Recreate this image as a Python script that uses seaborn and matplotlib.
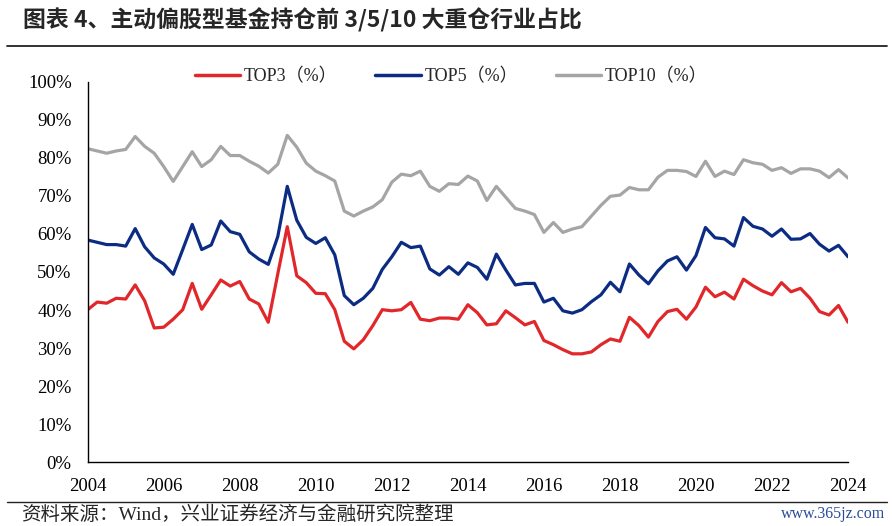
import numpy as np
import pandas as pd
import matplotlib
matplotlib.use("Agg")
import matplotlib.pyplot as plt
import seaborn as sns
from matplotlib.lines import Line2D

# ---------------- data (quarterly, 2004Q1 .. 2024Q1) ----------------
top3 = [40.1, 42.1, 41.8, 43.1, 42.9, 46.6, 42.4, 35.3, 35.5, 37.6,
        40.1, 47.0, 40.2, 44.0, 47.9, 46.3, 47.5, 42.9, 41.6, 36.8,
        49.5, 61.9, 49.0, 47.2, 44.4, 44.3, 40.1, 31.8, 29.8, 32.2,
        35.9, 40.1, 39.8, 40.1, 42.0, 37.6, 37.2, 37.9, 37.9, 37.6,
        41.4, 39.3, 36.1, 36.4, 39.8, 38.0, 36.1, 37.0, 32.0, 30.9,
        29.6, 28.5, 28.5, 29.0, 30.9, 32.4, 31.8, 38.1, 35.9, 32.9,
        37.0, 39.6, 40.2, 37.6, 40.8, 46.0, 43.5, 44.7, 42.9, 48.1,
        46.4, 45.0, 44.0, 47.2, 44.8, 45.7, 43.1, 39.6, 38.7, 41.2,
        36.8]
top5 = [58.4, 57.8, 57.2, 57.2, 56.8, 61.4, 56.6, 53.7, 52.1, 49.4,
        55.9, 62.5, 55.9, 57.1, 63.4, 60.6, 59.9, 55.3, 53.4, 52.0,
        59.3, 72.5, 63.6, 59.1, 57.5, 59.0, 54.5, 43.8, 41.4, 43.1,
        45.7, 50.7, 54.0, 57.8, 56.4, 56.8, 50.8, 49.2, 51.4, 49.4,
        52.4, 51.2, 48.1, 54.7, 50.5, 46.6, 47.0, 47.0, 42.1, 43.1,
        39.8, 39.2, 40.1, 42.2, 44.0, 47.3, 44.8, 52.1, 49.2, 46.9,
        50.3, 52.9, 54.0, 50.5, 54.3, 61.7, 59.0, 58.7, 56.8, 64.3,
        62.0, 61.3, 59.4, 61.3, 58.6, 58.7, 60.1, 57.3, 55.5, 57.0,
        54.0]
top10 = [82.4, 81.8, 81.2, 81.8, 82.2, 85.6, 83.0, 81.2, 77.7, 73.8,
         77.7, 81.6, 77.7, 79.5, 83.0, 80.6, 80.6, 79.1, 77.8, 76.0,
         78.3, 85.9, 82.8, 78.6, 76.5, 75.3, 73.9, 66.0, 64.7, 66.0,
         67.1, 69.0, 73.6, 75.7, 75.3, 76.5, 72.5, 71.2, 73.2, 73.0,
         75.2, 73.9, 68.8, 72.5, 69.6, 66.7, 66.0, 65.1, 60.4, 63.0,
         60.4, 61.3, 61.9, 64.7, 67.5, 69.9, 70.2, 72.2, 71.6, 71.6,
         74.9, 76.7, 76.7, 76.4, 75.1, 79.1, 75.1, 76.5, 75.6, 79.5,
         78.7, 78.3, 76.7, 77.4, 75.9, 77.1, 77.1, 76.5, 74.8, 76.9,
         74.7]
series_names = ["TOP3（%）", "TOP5（%）", "TOP10（%）"]
colors = ["#E1272A", "#0C2C84", "#A5A5A5"]
year_ticks = list(range(2004, 2025, 2))
pct_ticks = list(range(0, 101, 10))

title = "图表 4、主动偏股型基金持仓前 3/5/10 大重仓行业占比"
source = "资料来源：Wind，兴业证券经济与金融研究院整理"
watermark = "www.365jz.com"

# quarter positions (2004Q1 at 2004.0, one step per quarter)
x = 2004 + 0.25 * np.arange(len(top3))
df = pd.concat([
    pd.DataFrame({"x": x, "v": vals, "s": name})
    for name, vals in zip(series_names, [top3, top5, top10])
])

# ---------------- figure ----------------
sns.set_style("white")
serif = ["Liberation Serif", "Noto Sans CJK SC"]
plt.rcParams["font.family"] = serif

fig = plt.figure(figsize=(8.92, 5.26), dpi=100)
ax = fig.add_axes([0.0983, 0.1211, 0.8524, 0.7236])

sns.lineplot(data=df, x="x", y="v", hue="s", palette=colors,
             hue_order=series_names, linewidth=2.3, ax=ax, legend=False)

ax.set_xlim(2004, 2024)
ax.set_ylim(0, 100)
ax.set_xticks(year_ticks)
ax.set_xticklabels([str(y) for y in year_ticks])
ax.set_yticks(pct_ticks)
ax.set_yticklabels([f"{p}%" for p in pct_ticks])
ax.set_xlabel("")
ax.set_ylabel("")
for s in ["top", "right"]:
    ax.spines[s].set_visible(False)
for s in ["left", "bottom"]:
    ax.spines[s].set_color("black")
    ax.spines[s].set_linewidth(1.0)
ax.tick_params(axis="both", direction="in", length=4, width=0.9,
               colors="black", labelsize=13.5, pad=11.5)
ax.grid(False)

handles = [Line2D([0], [0], color=c, lw=2.5) for c in colors]
leg = ax.legend(handles, series_names, loc="center",
                bbox_to_anchor=(0.478, 1.012), ncol=3, frameon=False,
                fontsize=13, handlelength=2.5, handletextpad=0.2,
                columnspacing=2.1)

# ---------------- title / source ----------------
fig.text(0.026, 1 - 20 / 526, title, fontsize=16.5, fontweight="bold",
         family=["Noto Sans CJK SC", "DejaVu Sans"], va="center", ha="left")
fig.add_artist(Line2D([0.008, 0.994], [1 - 46 / 526] * 2, color="#222222",
                      lw=1.3, transform=fig.transFigure))
fig.add_artist(Line2D([0.008, 0.994], [1 - 502 / 526] * 2, color="#222222",
                      lw=1.0, transform=fig.transFigure))
fig.text(0.024, 1 - 515 / 526, source, fontsize=14, family=serif,
         va="center", ha="left")
fig.text(0.992, 1 - 514 / 526, watermark, fontsize=11.5, family=serif,
         color="#2B4C9B", va="center", ha="right")

fig.savefig("out.png", dpi=100)
